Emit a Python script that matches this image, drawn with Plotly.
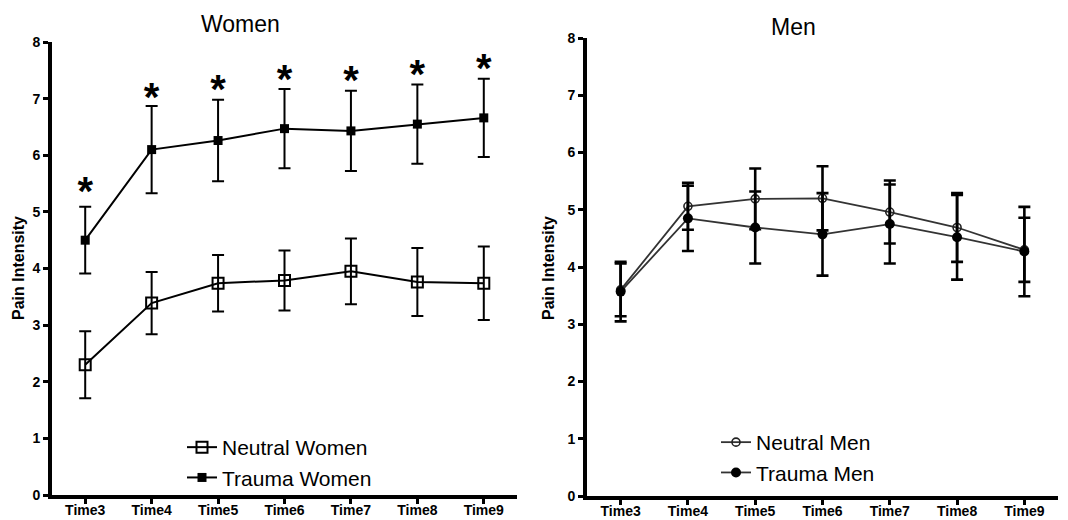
import plotly.graph_objects as go

# Time points shared by both panels
times = ["Time3", "Time4", "Time5", "Time6", "Time7", "Time8", "Time9"]

# Women: mean pain intensity and error (+/-)
neutral_women = [2.30, 3.39, 3.74, 3.79, 3.95, 3.76, 3.74]
neutral_women_err = [0.59, 0.55, 0.50, 0.53, 0.58, 0.60, 0.65]
trauma_women = [4.50, 6.10, 6.26, 6.47, 6.43, 6.55, 6.66]
trauma_women_err = [0.59, 0.77, 0.72, 0.70, 0.71, 0.70, 0.69]

# Significance markers above the trauma women series
star_y = [5.29, 6.96, 7.10, 7.28, 7.25, 7.37, 7.47]

# Men: mean pain intensity and error (+/-)
neutral_men = [3.60, 5.06, 5.19, 5.20, 4.96, 4.69, 4.30]
neutral_men_err = [0.46, 0.41, 0.53, 0.56, 0.55, 0.60, 0.56]
trauma_men = [3.57, 4.85, 4.69, 4.57, 4.75, 4.52, 4.27]
trauma_men_err = [0.52, 0.57, 0.63, 0.72, 0.69, 0.74, 0.78]

W, H = 1068, 520
ML, MR, MT, MB = 52, 10, 38, 24
PW, PH = W - ML - MR, H - MT - MB


def px_x(p):
    return (p - ML) / PW


def px_y(p):
    return (H - MB - p) / PH


FONT = "Liberation Sans, Arial, sans-serif"
INK = "rgb(0,0,0)"

fig = go.Figure()


def err(arr, thick=2, width=6):
    return dict(type="data", array=arr, visible=True, thickness=thick,
                width=width, color=INK)


fig.add_trace(go.Scatter(
    x=times, y=neutral_women, name="Neutral Women", mode="lines+markers",
    line=dict(color=INK, width=2),
    marker=dict(symbol="square-open", size=11, color=INK,
                line=dict(width=2, color=INK)),
    error_y=err(neutral_women_err),
    xaxis="x", yaxis="y", legend="legend",
))
fig.add_trace(go.Scatter(
    x=times, y=trauma_women, name="Trauma Women", mode="lines+markers",
    line=dict(color=INK, width=2),
    marker=dict(symbol="square", size=9, color=INK),
    error_y=err(trauma_women_err),
    xaxis="x", yaxis="y", legend="legend",
))
fig.add_trace(go.Scatter(
    x=times, y=star_y, mode="text", text=["*"] * len(times),
    textposition="middle center",
    textfont=dict(family=FONT, size=40, color=INK, weight="bold"),
    showlegend=False, hoverinfo="skip", xaxis="x", yaxis="y",
))

fig.add_trace(go.Scatter(
    x=times, y=neutral_men, name="Neutral Men", mode="lines+markers",
    line=dict(color="#333333", width=1.8),
    marker=dict(symbol="circle-open", size=8, color="#222222",
                line=dict(width=1.6)),
    error_y=err(neutral_men_err, thick=2.6),
    xaxis="x2", yaxis="y2", legend="legend2",
))
fig.add_trace(go.Scatter(
    x=times, y=trauma_men, name="Trauma Men", mode="lines+markers",
    line=dict(color="#333333", width=1.8),
    marker=dict(symbol="circle", size=10, color=INK),
    error_y=err(trauma_men_err, thick=2.6),
    xaxis="x2", yaxis="y2", legend="legend2",
))

axis_common = dict(
    showline=True, linewidth=4, mirror=False, linecolor=INK,
    ticks="outside", ticklen=5, tickwidth=3, tickcolor=INK,
    showgrid=False, zeroline=False, automargin=False, layer="above traces",
    tickfont=dict(family=FONT, size=14, color=INK, weight="bold"),
)

fig.update_layout(
    width=W, height=H,
    margin=dict(l=ML, r=MR, t=MT, b=MB, autoexpand=False),
    paper_bgcolor="white", plot_bgcolor="white",
    font=dict(family=FONT, color=INK),
    xaxis=dict(domain=[0, px_x(517)], type="category", range=[-0.5, 6.5],
               anchor="y", ticklabelstandoff=-6, **axis_common),
    yaxis=dict(domain=[px_y(495), px_y(42)], range=[0, 8], dtick=1,
               anchor="x", **axis_common),
    xaxis2=dict(domain=[px_x(587), px_x(1058)], type="category",
                range=[-0.5, 6.5], anchor="y2", ticklabelstandoff=-6,
                **axis_common),
    yaxis2=dict(domain=[px_y(496), px_y(38)], range=[0, 8], dtick=1,
                anchor="x2", **axis_common),
    legend=dict(x=px_x(182), y=px_y(427), xanchor="left", yanchor="top",
                font=dict(family=FONT, size=21, color=INK),
                bgcolor="rgba(0,0,0,0)", itemwidth=30, tracegroupgap=0),
    legend2=dict(x=px_x(716), y=px_y(422), xanchor="left", yanchor="top",
                 font=dict(family=FONT, size=21, color=INK),
                 bgcolor="rgba(0,0,0,0)", itemwidth=30, tracegroupgap=0),
    showlegend=True,
    annotations=[
        dict(text="Women", x=px_x(240), y=px_y(24), xref="paper", yref="paper",
             xanchor="center", yanchor="middle", showarrow=False,
             font=dict(family=FONT, size=23, color=INK)),
        dict(text="Men", x=px_x(793), y=px_y(27), xref="paper", yref="paper",
             xanchor="center", yanchor="middle", showarrow=False,
             font=dict(family=FONT, size=23, color=INK)),
        dict(text="Pain Intensity", x=px_x(18), y=px_y(268), xref="paper",
             yref="paper", xanchor="center", yanchor="middle",
             showarrow=False, textangle=-90,
             font=dict(family=FONT, size=16, color=INK, weight="bold")),
        dict(text="Pain Intensity", x=px_x(548), y=px_y(268), xref="paper",
             yref="paper", xanchor="center", yanchor="middle",
             showarrow=False, textangle=-90,
             font=dict(family=FONT, size=16, color=INK, weight="bold")),
    ],
)

fig.write_html("out.html")
